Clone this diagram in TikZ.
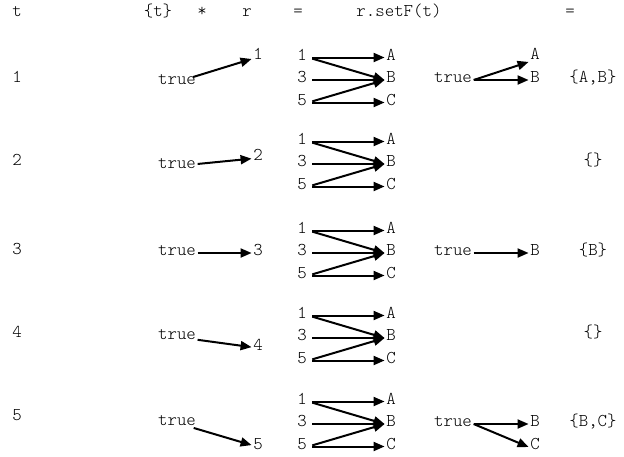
\documentclass[tikz,border=0pt]{standalone}
\usepackage{fontspec}
\setmonofont{Latin Modern Mono Light}
\usetikzlibrary{arrows.meta}
\begin{document}
\begin{tikzpicture}[x=1pt,y=-1pt,
  every node/.style={font=\ttfamily\fontsize{18}{21}\selectfont, inner sep=1.5pt, text height=0.6em, text depth=0.05em},
  arr/.style={line width=2pt, -{Triangle[length=11pt,width=9pt]}}]
\useasboundingbox (0,0) rectangle (624,456);
% header
\node (h1) at (17,14) {t};
\node (h2) at (158,14) {\{t\}};
\node (h3) at (202,14) {*};
\node (h4) at (247,14) {r};
\node (h5) at (298,14) {=};
\node (h6) at (399,14) {r.setF(t)};
\node (h7) at (570,14) {=};
% rows
\foreach \i/\yl/\yt/\yb/\ny in {1/80/82/80/57, 2/163/166/164/158, 3/252/253/253/253, 4/335/337/338/348, 5/418/423/424/447} {
  \node (L\i) at (17,\yl) {\i};
  \node (T\i) at (177,\yt) {true};
  \node (N\i) at (258,\ny) {\i};
  \draw[arr] (T\i) -- (N\i);
  \node (ra\i) at (302,{\yb-22.5}) {1};
  \node (rb\i) at (302,\yb) {3};
  \node (rc\i) at (302,{\yb+22.5}) {5};
  \node (A\i) at (391,{\yb-22.5}) {A};
  \node (B\i) at (391,\yb) {B};
  \node (C\i) at (391,{\yb+22.5}) {C};
  \draw[arr, shorten <=4pt] (ra\i.east) -- (A\i.west);
  \draw[arr, shorten <=4pt] (ra\i.east) -- (B\i.west);
  \draw[arr, shorten <=4pt] (rb\i.east) -- (B\i.west);
  \draw[arr, shorten <=4pt] (rc\i.east) -- (B\i.west);
  \draw[arr, shorten <=4pt] (rc\i.east) -- (C\i.west);
}
% r.setF(t)
\node (S1) at (453,80) {true};
\node (SA1) at (535,57) {A};
\node (SB1) at (535,80) {B};
\draw[arr] (S1.east) -- (SA1.south west);
\draw[arr] (S1.east) -- (SB1.west);
\node (S3) at (453,253) {true};
\node (SB3) at (535,253) {B};
\draw[arr] (S3.east) -- (SB3.west);
\node (S5) at (453,424) {true};
\node (SB5) at (535,424) {B};
\node (SC5) at (535,447) {C};
\draw[arr] (S5.east) -- (SB5.west);
\draw[arr] (S5.east) -- (SC5.west);
% results
\node (R1) at (593,80) {\{A,B\}};
\node (R2) at (593,163) {\{\}};
\node (R3) at (593,253) {\{B\}};
\node (R4) at (593,335) {\{\}};
\node (R5) at (593,424) {\{B,C\}};
\end{tikzpicture}
\end{document}
